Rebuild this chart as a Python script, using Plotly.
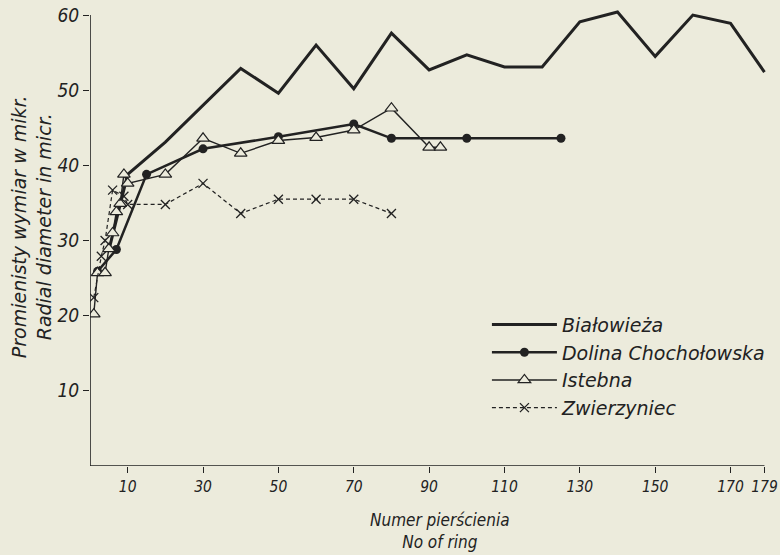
import plotly.graph_objects as go

# ---- data ----
bial_x = [5, 10, 20, 40, 50, 60, 70, 80, 90, 100, 110, 120, 130, 140, 150, 160, 170, 179]
bial_y = [28.7, 38.8, 43.1, 52.9, 49.6, 56.0, 50.2, 57.6, 52.7, 54.7, 53.1, 53.1, 59.1, 60.4, 54.5, 60.0, 58.9, 52.4]

dol_x = [2, 7, 15, 30, 50, 70, 80, 100, 125]
dol_y = [25.9, 28.8, 38.8, 42.2, 43.8, 45.5, 43.6, 43.6, 43.6]

ist_x = [1, 2, 4, 5, 6, 7, 8, 9, 10, 20, 30, 40, 50, 60, 70, 80, 90, 93]
ist_y = [20.2, 25.7, 25.7, 28.9, 31.0, 33.8, 34.9, 38.8, 37.6, 38.8, 43.6, 41.6, 43.3, 43.7, 44.7, 47.6, 42.4, 42.4]

zw_x = [1, 3, 4, 6, 9, 10, 20, 30, 40, 50, 60, 70, 80]
zw_y = [22.4, 27.9, 30.0, 36.7, 35.9, 34.8, 34.8, 37.6, 33.6, 35.5, 35.5, 35.5, 33.6]

x_ticks = [10, 30, 50, 70, 90, 110, 130, 150, 170, 179]
y_ticks = [10, 20, 30, 40, 50, 60]

names = ["Białowieża", "Dolina Chochołowska", "Istebna", "Zwierzyniec"]

# ---- style ----
INK = "#222222"
PAPER = "#ecebdc"
FONT = "DejaVu Sans"
NARROW = "DejaVu Sans Condensed, Liberation Sans Narrow, Liberation Sans"

fig = go.Figure()
fig.add_trace(go.Scatter(x=bial_x, y=bial_y, mode="lines", name=names[0],
                         line=dict(color=INK, width=3)))
fig.add_trace(go.Scatter(x=dol_x, y=dol_y, mode="lines+markers", name=names[1],
                         line=dict(color=INK, width=2.5),
                         marker=dict(symbol="circle", size=9, color=INK)))
fig.add_trace(go.Scatter(x=ist_x, y=ist_y, mode="lines+markers", name=names[2],
                         line=dict(color=INK, width=1.4),
                         marker=dict(symbol="triangle-up", size=11, color=PAPER,
                                     line=dict(color=INK, width=1.2))))
fig.add_trace(go.Scatter(x=zw_x, y=zw_y, mode="lines+markers", name=names[3],
                         line=dict(color=INK, width=1.2, dash="4px,3px"),
                         marker=dict(symbol="x-thin", size=9,
                                     line=dict(color=INK, width=1.3))))

# axis lines ending at 60 / 179 as in the reference
fig.add_shape(type="line", xref="x", yref="y", x0=0, x1=179, y0=0, y1=0,
              line=dict(color=INK, width=1.6))
fig.add_shape(type="line", xref="x", yref="y", x0=0, x1=0, y0=0, y1=60,
              line=dict(color=INK, width=1.6))

fig.update_layout(
    width=780, height=555,
    margin=dict(l=90, r=8, t=0, b=89, autoexpand=False),
    paper_bgcolor=PAPER, plot_bgcolor=PAPER,
    font=dict(family=FONT, color=INK, style="italic"),
    showlegend=True,
    legend=dict(x=0.582, y=0.344, xanchor="left", yanchor="top",
                bgcolor="rgba(0,0,0,0)", font=dict(size=19, family=FONT, style="italic"),
                itemwidth=65, tracegroupgap=0),
    xaxis=dict(range=[0, 181], showgrid=False, zeroline=False, showline=False,
               automargin=False, ticklabeloverflow="allow", tickangle=0,
               tickmode="array", tickvals=x_ticks, ticktext=[str(v) for v in x_ticks],
               ticks="outside", ticklen=6, tickwidth=1.2, tickcolor=INK,
               tickfont=dict(size=15.5, family=NARROW, style="italic")),
    yaxis=dict(range=[0, 62], showgrid=False, zeroline=False, showline=False,
               automargin=False, ticklabeloverflow="allow",
               tickmode="array", tickvals=y_ticks, ticktext=[str(v) for v in y_ticks],
               ticks="outside", ticklen=6, tickwidth=1.2, tickcolor=INK,
               tickfont=dict(size=19, family=NARROW, style="italic")),
)

fig.add_annotation(text="Numer pierścienia<br>No of ring", xref="paper", yref="paper",
                   x=0.513, y=-0.0903, xanchor="center", yanchor="top", showarrow=False,
                   font=dict(size=17, family=NARROW, style="italic"))
fig.add_annotation(text="Promienisty wymiar w mikr.<br>Radial diameter in micr.",
                   xref="paper", yref="paper", x=-0.122, y=0.513, xanchor="left",
                   yanchor="middle", textangle=-90, showarrow=False,
                   font=dict(size=19, family=FONT, style="italic"))

# remove the default 8px page margin so the 780x555 figure fills the window
fig.write_html("out.html",
               config={"displayModeBar": False},
               post_script="document.body.style.margin='0px';"
                           "document.body.style.overflow='hidden';")
